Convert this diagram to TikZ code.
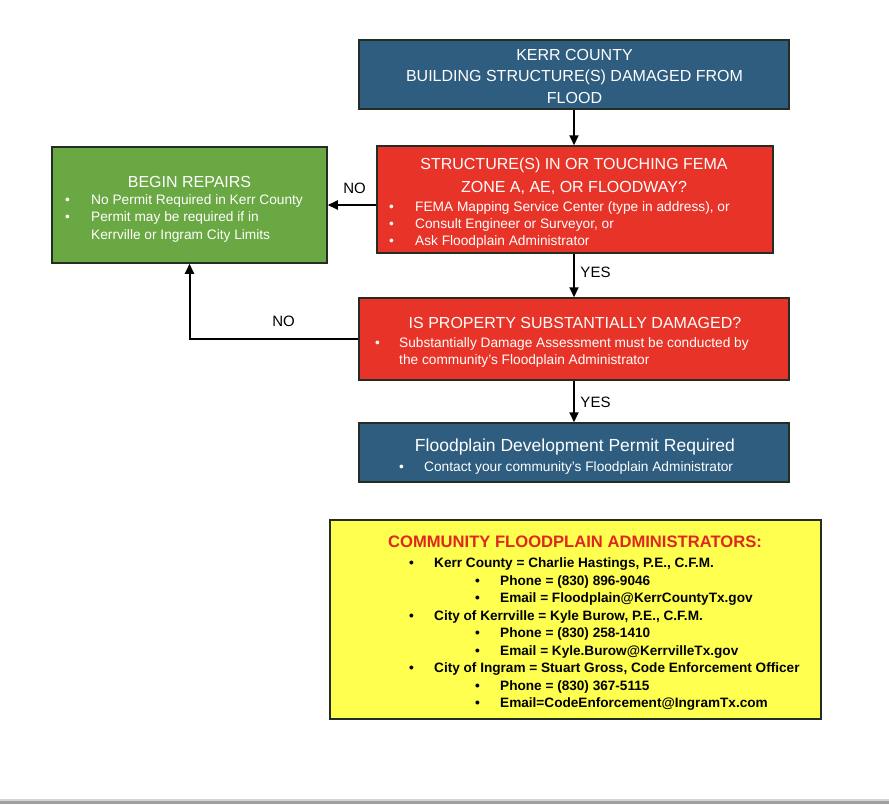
\documentclass[tikz,border=0pt]{standalone}
\usepackage{fontspec}
\setmainfont{Liberation Sans}
\usetikzlibrary{arrows.meta}
\definecolor{kblue}{RGB}{46,93,127}
\definecolor{kred}{RGB}{232,52,40}
\definecolor{kgreen}{RGB}{106,168,67}
\definecolor{kyellow}{RGB}{255,255,80}
\definecolor{khead}{RGB}{222,40,30}
\definecolor{kborder}{RGB}{35,45,35}
\definecolor{kgray}{RGB}{160,160,160}
\newcommand\fsz[1]{\fontsize{#1}{#1}\selectfont}
\begin{document}
\begin{tikzpicture}[x=1pt,y=-1pt,
  box/.style={draw=kborder, line width=1.5pt, rectangle, inner sep=0},
  arr/.style={line width=2pt, -{Triangle[length=10pt,width=9pt]}},
  t/.style={inner sep=0, anchor=base},
  tl/.style={inner sep=0, anchor=base west},
  ttl/.style={t, text=white, font=\fsz{16}},
  wb/.style={tl, text=white, font=\fsz{13.7}},
  yb/.style={tl, text=black, font=\bfseries\fsz{13.6}},
  lbl/.style={t, text=black, font=\fsz{15}}]
\useasboundingbox (0,0) rectangle (889,804);
\fill[white] (0,0) rectangle (889,804);
\fill[kgray!45] (0,799) rectangle (889,800.5);
\fill[kgray] (0,800.5) rectangle (889,804);

% boxes
\node[box, fill=kblue, minimum width=430pt, minimum height=69pt] (top) at (574,74.5) {};
\node[box, fill=kred, minimum width=396pt, minimum height=107pt] (red1) at (575,199.5) {};
\node[box, fill=kgreen, minimum width=275pt, minimum height=116pt] (green) at (189.5,205) {};
\node[box, fill=kred, minimum width=430pt, minimum height=82pt] (red2) at (574,339) {};
\node[box, fill=kblue, minimum width=430pt, minimum height=59pt] (blue2) at (574,452.5) {};
\node[box, fill=kyellow, minimum width=491pt, minimum height=199pt] (yel) at (575.5,619.5) {};

% top text
\node[ttl] (top1) at (574.5,60) {KERR COUNTY};
\node[ttl] (top2) at (574.5,81.5) {BUILDING STRUCTURE(S) DAMAGED FROM};
\node[ttl] (top3) at (574.5,103) {FLOOD};

% red1 text
\node[ttl] (r1t1) at (574,169) {STRUCTURE(S) IN OR TOUCHING FEMA};
\node[ttl] (r1t2) at (574,192) {ZONE A, AE, OR FLOODWAY?};
\node[wb] (r1b1) at (389,211) {\textbullet};
\node[wb] (r1x1) at (415,211) {FEMA Mapping Service Center (type in address), or};
\node[wb] (r1b2) at (389,228) {\textbullet};
\node[wb] (r1x2) at (415,228) {Consult Engineer or Surveyor, or};
\node[wb] (r1b3) at (389,245) {\textbullet};
\node[wb] (r1x3) at (415,245) {Ask Floodplain Administrator};

% green text
\node[ttl] (g1) at (189.5,187) {BEGIN REPAIRS};
\node[wb] (gb1) at (65,204) {\textbullet};
\node[wb] (gx1) at (91,204) {No Permit Required in Kerr County};
\node[wb] (gb2) at (65,221.5) {\textbullet};
\node[wb] (gx2) at (91,221.5) {Permit may be required if in};
\node[wb] (gx3) at (91,239) {Kerrville or Ingram City Limits};

% red2 text
\node[ttl] (r2t) at (575,328) {IS PROPERTY SUBSTANTIALLY DAMAGED?};
\node[wb] (r2b1) at (375,347) {\textbullet};
\node[wb] (r2x1) at (399,347) {Substantially Damage Assessment must be conducted by};
\node[wb] (r2x2) at (399,364) {the community’s Floodplain Administrator};

% blue2 text
\node[t, text=white, font=\fsz{17.5}] (b2t) at (575,451) {Floodplain Development Permit Required};
\node[wb] (b2b) at (399,471) {\textbullet};
\node[wb] (b2x) at (424,471) {Contact your community’s Floodplain Administrator};

% yellow text
\node[t, text=khead, font=\bfseries\fsz{16.6}] (yh) at (575,547.3) {COMMUNITY FLOODPLAIN ADMINISTRATORS:};
\node[yb] (yb1) at (409,567.7) {\textbullet};
\node[yb] (yx1) at (434,567.7) {Kerr County = Charlie Hastings, P.E., C.F.M.};
\node[yb] (yb2) at (475,585.2) {\textbullet};
\node[yb] (yx2) at (500,585.2) {Phone = (830) 896-9046};
\node[yb] (yb3) at (475,602.7) {\textbullet};
\node[yb] (yx3) at (500,602.7) {Email = Floodplain@KerrCountyTx.gov};
\node[yb] (yb4) at (409,620.2) {\textbullet};
\node[yb] (yx4) at (434,620.2) {City of Kerrville = Kyle Burow, P.E., C.F.M.};
\node[yb] (yb5) at (475,637.7) {\textbullet};
\node[yb] (yx5) at (500,637.7) {Phone = (830) 258-1410};
\node[yb] (yb6) at (475,655.2) {\textbullet};
\node[yb] (yx6) at (500,655.2) {Email = Kyle.Burow@KerrvilleTx.gov};
\node[yb] (yb7) at (409,672.7) {\textbullet};
\node[yb] (yx7) at (434,672.7) {City of Ingram = Stuart Gross, Code Enforcement Officer};
\node[yb] (yb8) at (475,690.2) {\textbullet};
\node[yb] (yx8) at (500,690.2) {Phone = (830) 367-5115};
\node[yb] (yb9) at (475,707.7) {\textbullet};
\node[yb] (yx9) at (500,707.7) {Email=CodeEnforcement@IngramTx.com};

% connectors
\draw[arr] (top.south) -- (top.south |- red1.north);
\draw[arr] (green.east -| red1.west) -- (green.east);
\draw[arr] (red1.south -| red2.north) -- (red2.north);
\draw[arr] (red2.west) -| (green.south);
\draw[arr] (red2.south) -- (blue2.north);

% labels
\node[lbl] (no1) at (354.5,193) {NO};
\node[lbl] (yes1) at (595.5,277) {YES};
\node[lbl] (no2) at (283.5,326) {NO};
\node[lbl] (yes2) at (595.5,407) {YES};
\end{tikzpicture}
\end{document}
